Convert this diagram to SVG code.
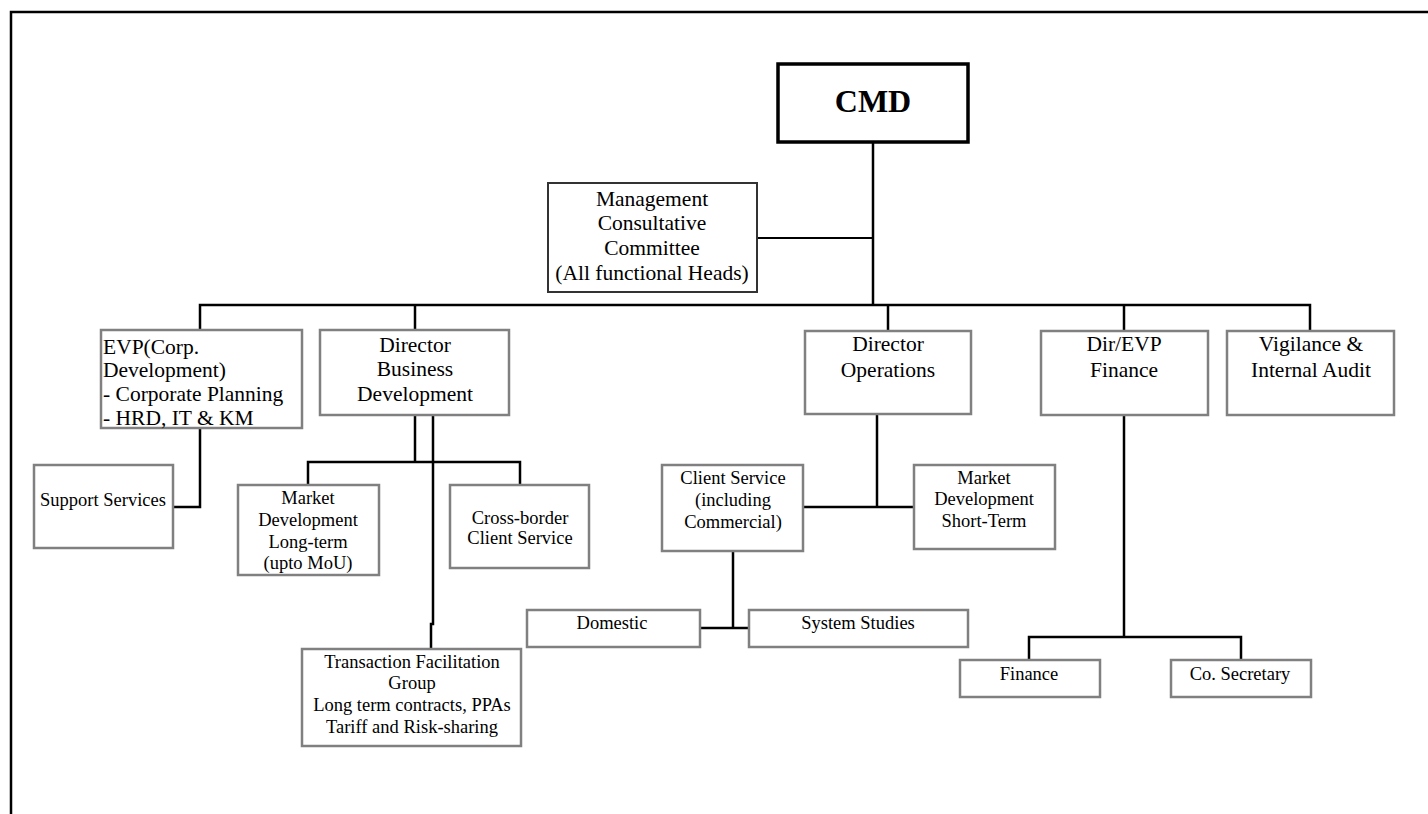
<svg xmlns="http://www.w3.org/2000/svg" width="1428" height="814" viewBox="0 0 1428 814">
<style>
.box{fill:#fff;stroke:#808080;stroke-width:2.5}
.mgmt{fill:#fff;stroke:#333;stroke-width:2}
.cmd{fill:#fff;stroke:#000;stroke-width:3.5}
text{font-family:"Liberation Serif",serif;fill:#000;text-anchor:middle}
.t{font-size:21.5px}
.tl{text-anchor:start}
.s{font-size:18.5px}
.b{font-weight:bold;font-size:32px}
.c{fill:none;stroke:#000;stroke-width:2.5}
.c2{fill:none;stroke:#000;stroke-width:2}
</style>
<rect width="1428" height="814" fill="#fff"/>
<path d="M11,814 V12 H1428" fill="none" stroke="#000" stroke-width="2.5"/>
<g id="connectors">
<path class="c" d="M873,142 V305"/>
<path class="c2" d="M757,238 H873"/>
<path class="c" d="M200,330 V305 H1310 V331"/>
<path class="c" d="M415,305 V330"/>
<path class="c" d="M888,305 V331"/>
<path class="c" d="M1124,305 V331"/>
<path class="c" d="M200,428 V507 H173"/>
<path class="c" d="M415,415 V462"/>
<path class="c" d="M308,485 V462 H520 V485"/>
<path class="c" d="M433,415 V624 H431 V649"/>
<path class="c" d="M877,414 V507"/>
<path class="c" d="M803,507 H914"/>
<path class="c" d="M733,551 V628"/>
<path class="c" d="M700,628 H749"/>
<path class="c" d="M1124,415 V637"/>
<path class="c" d="M1029,660 V637 H1241 V660"/>
</g>
<g id="cmd">
<rect class="cmd" x="778" y="64" width="190" height="78"/>
<text class="b" x="873" y="112">CMD</text>
</g>
<g id="management">
<rect class="mgmt" x="548" y="183" width="209" height="109"/>
<text class="t" x="652" y="206">Management</text>
<text class="t" x="652" y="230">Consultative</text>
<text class="t" x="652" y="255">Committee</text>
<text class="t" x="652" y="280">(All functional Heads)</text>
</g>
<g id="evp">
<rect class="box" x="101" y="330" width="201" height="98"/>
<text class="t tl" x="103" y="354">EVP(Corp.</text>
<text class="t tl" x="103" y="377">Development)</text>
<text class="t tl" x="103" y="401">- Corporate Planning</text>
<text class="t tl" x="103" y="425">- HRD, IT &amp; KM</text>
</g>
<g id="dir-bd">
<rect class="box" x="320" y="330" width="189" height="85"/>
<text class="t" x="415" y="352">Director</text>
<text class="t" x="415" y="376">Business</text>
<text class="t" x="415" y="401">Development</text>
</g>
<g id="dir-ops">
<rect class="box" x="805" y="331" width="166" height="83"/>
<text class="t" x="888" y="351">Director</text>
<text class="t" x="888" y="377">Operations</text>
</g>
<g id="dir-finance">
<rect class="box" x="1041" y="331" width="167" height="84"/>
<text class="t" x="1124" y="351">Dir/EVP</text>
<text class="t" x="1124" y="377">Finance</text>
</g>
<g id="vigilance">
<rect class="box" x="1227" y="331" width="167" height="84"/>
<text class="t" x="1311" y="351">Vigilance &amp;</text>
<text class="t" x="1311" y="377">Internal Audit</text>
</g>
<g id="support">
<rect class="box" x="34" y="465" width="139" height="83"/>
<text class="s" x="103" y="506">Support Services</text>
</g>
<g id="market-lt">
<rect class="box" x="238" y="485" width="141" height="90"/>
<text class="s" x="308" y="504">Market</text>
<text class="s" x="308" y="526">Development</text>
<text class="s" x="308" y="548">Long-term</text>
<text class="s" x="308" y="569">(upto MoU)</text>
</g>
<g id="crossborder">
<rect class="box" x="450" y="485" width="139" height="83"/>
<text class="s" x="520" y="524">Cross-border</text>
<text class="s" x="520" y="544">Client Service</text>
</g>
<g id="client-service">
<rect class="box" x="662" y="465" width="141" height="86"/>
<text class="s" x="733" y="484">Client Service</text>
<text class="s" x="733" y="506">(including</text>
<text class="s" x="733" y="528">Commercial)</text>
</g>
<g id="market-st">
<rect class="box" x="914" y="465" width="141" height="84"/>
<text class="s" x="984" y="484">Market</text>
<text class="s" x="984" y="505">Development</text>
<text class="s" x="984" y="527">Short-Term</text>
</g>
<g id="domestic">
<rect class="box" x="527" y="610" width="173" height="37"/>
<text class="s" x="612" y="629">Domestic</text>
</g>
<g id="system-studies">
<rect class="box" x="749" y="610" width="219" height="37"/>
<text class="s" x="858" y="629">System Studies</text>
</g>
<g id="transaction">
<rect class="box" x="302" y="649" width="219" height="97"/>
<text class="s" x="412" y="668">Transaction Facilitation</text>
<text class="s" x="412" y="689">Group</text>
<text class="s" x="412" y="711">Long term contracts, PPAs</text>
<text class="s" x="412" y="733">Tariff and Risk-sharing</text>
</g>
<g id="finance">
<rect class="box" x="960" y="660" width="140" height="37"/>
<text class="s" x="1029" y="680">Finance</text>
</g>
<g id="co-secretary">
<rect class="box" x="1171" y="660" width="140" height="37"/>
<text class="s" x="1240" y="680">Co. Secretary</text>
</g>
</svg>
